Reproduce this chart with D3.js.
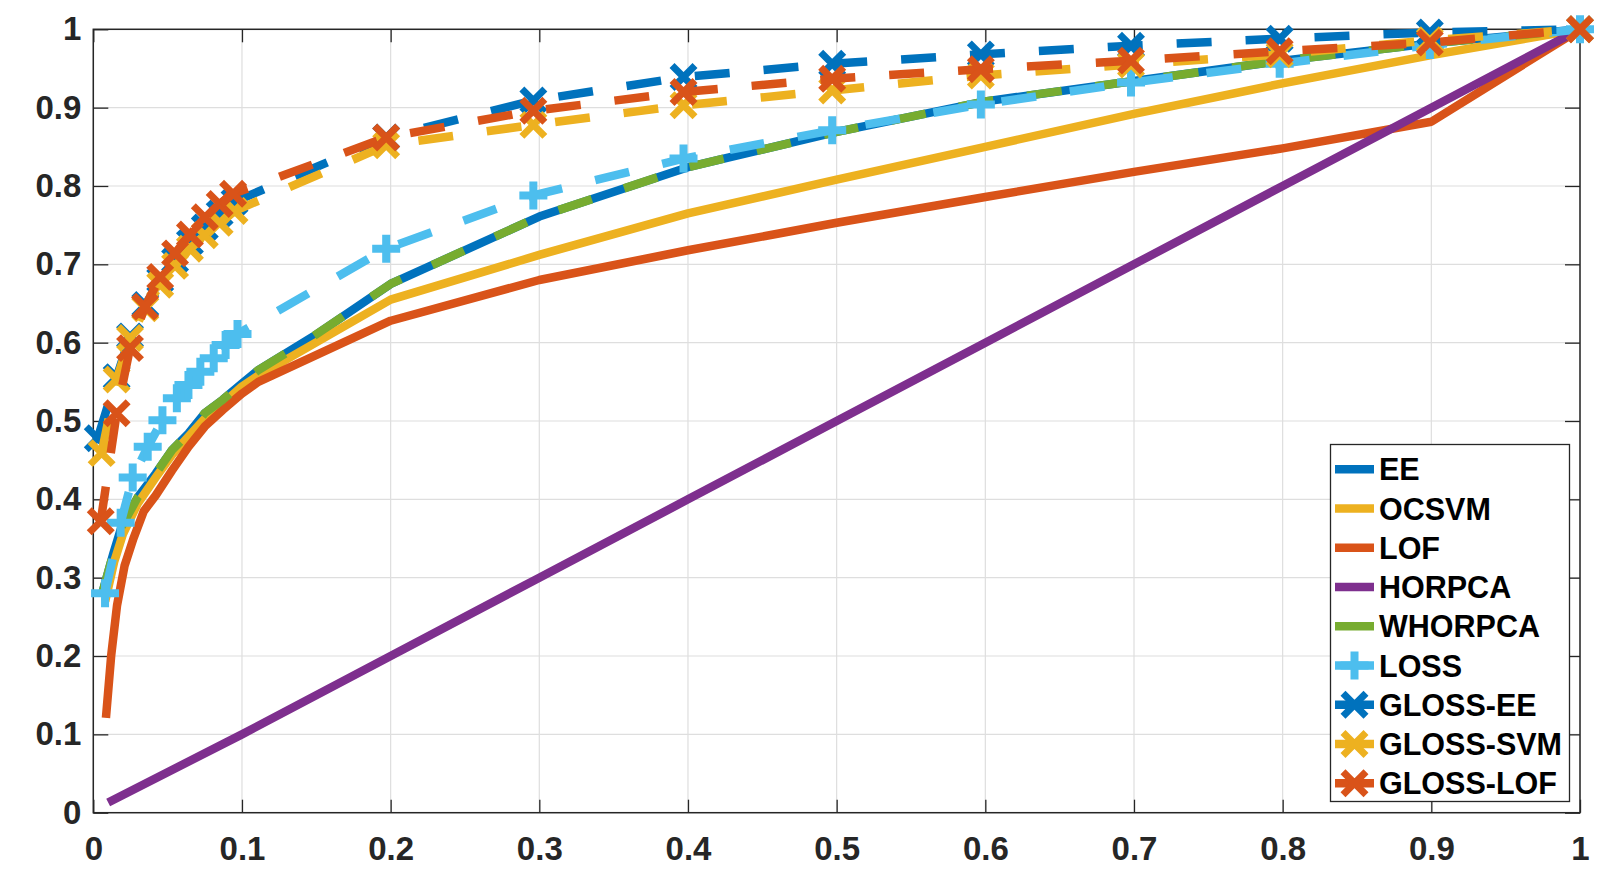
<!DOCTYPE html>
<html>
<head>
<meta charset="utf-8">
<script src="https://cdn.jsdelivr.net/npm/d3@7"></script>
<style>
body { margin: 0; background: #fff; }
text { font-family: "Liberation Sans", Arial, Helvetica, sans-serif; font-weight: bold; }
</style>
</head>
<body>
<div id="chart"></div>
<script>
// values (x = false positive rate, y = true positive rate)
const ee_x = [0.006, 0.0135, 0.019, 0.03, 0.042, 0.053, 0.064, 0.075, 0.087, 0.1, 0.111, 0.148, 0.2, 0.3, 0.4, 0.5, 0.6, 0.7, 0.8, 0.9, 1]
const ee_y = [0.28, 0.331, 0.365, 0.403, 0.433, 0.463, 0.484, 0.51, 0.527, 0.548, 0.565, 0.608, 0.675, 0.761, 0.824, 0.869, 0.908, 0.934, 0.96, 0.982, 1]

const ocsvm_x = [0.008, 0.014, 0.02, 0.03, 0.042, 0.053, 0.064, 0.075, 0.087, 0.1, 0.111, 0.2, 0.3, 0.4, 0.5, 0.6, 0.7, 0.8, 0.9, 1]
const ocsvm_y = [0.27, 0.32, 0.356, 0.395, 0.428, 0.457, 0.48, 0.503, 0.522, 0.544, 0.558, 0.655, 0.712, 0.765, 0.808, 0.85, 0.892, 0.931, 0.967, 1]

const lof_x = [0.0085, 0.012, 0.016, 0.021, 0.027, 0.034, 0.042, 0.053, 0.064, 0.075, 0.087, 0.1, 0.111, 0.2, 0.3, 0.4, 0.5, 0.6, 0.7, 0.8, 0.9, 1]
const lof_y = [0.121, 0.2, 0.265, 0.315, 0.35, 0.385, 0.405, 0.437, 0.467, 0.493, 0.514, 0.535, 0.55, 0.628, 0.68, 0.718, 0.753, 0.786, 0.818, 0.848, 0.882, 1]

const horpca_x = [0.01, 0.1, 0.2, 0.3, 0.4, 0.5, 0.6, 0.7, 0.8, 0.9, 1]
const horpca_y = [0.013, 0.1, 0.2, 0.3, 0.4, 0.5, 0.6, 0.7, 0.8, 0.9, 1]

const whorpca_x = [0.006, 0.0135, 0.019, 0.03, 0.042, 0.053, 0.064, 0.075, 0.087, 0.1, 0.111, 0.148, 0.2, 0.3, 0.4, 0.5, 0.6, 0.7, 0.8, 0.9, 1]
const whorpca_y = [0.28, 0.331, 0.365, 0.403, 0.433, 0.463, 0.484, 0.51, 0.527, 0.548, 0.565, 0.608, 0.675, 0.761, 0.824, 0.869, 0.908, 0.934, 0.96, 0.982, 1]

const loss_x = [0.0079, 0.0184, 0.0265, 0.0366, 0.0465, 0.0562, 0.064, 0.072, 0.081, 0.089, 0.097, 0.197, 0.296, 0.397, 0.497, 0.597, 0.698, 0.798, 0.899, 1]
const loss_y = [0.28, 0.37, 0.428, 0.467, 0.501, 0.529, 0.546, 0.563, 0.58, 0.597, 0.611, 0.72, 0.788, 0.835, 0.871, 0.904, 0.932, 0.956, 0.98, 1]

const gee_x = [0.003, 0.0157, 0.0247, 0.035, 0.045, 0.055, 0.065, 0.075, 0.085, 0.095, 0.197, 0.296, 0.397, 0.497, 0.597, 0.698, 0.798, 0.899, 1]
const gee_y = [0.478, 0.556, 0.608, 0.648, 0.68, 0.705, 0.728, 0.747, 0.765, 0.78, 0.862, 0.909, 0.939, 0.956, 0.968, 0.979, 0.988, 0.996, 1]

const gsvm_x = [0.0056, 0.0157, 0.0247, 0.035, 0.045, 0.055, 0.065, 0.075, 0.085, 0.095, 0.197, 0.296, 0.397, 0.497, 0.597, 0.698, 0.798, 0.899, 1]
const gsvm_y = [0.459, 0.553, 0.606, 0.644, 0.674, 0.698, 0.72, 0.737, 0.753, 0.768, 0.852, 0.878, 0.903, 0.922, 0.941, 0.955, 0.968, 0.986, 1]

const glof_x = [0.005, 0.0157, 0.0247, 0.0348, 0.045, 0.055, 0.065, 0.075, 0.085, 0.094, 0.197, 0.296, 0.397, 0.497, 0.597, 0.698, 0.798, 0.899, 1]
const glof_y = [0.372, 0.51, 0.593, 0.646, 0.684, 0.714, 0.738, 0.76, 0.777, 0.79, 0.862, 0.896, 0.92, 0.937, 0.949, 0.96, 0.972, 0.983, 1]

const names = ["EE", "OCSVM", "LOF", "HORPCA", "WHORPCA", "LOSS", "GLOSS-EE", "GLOSS-SVM", "GLOSS-LOF"]
const colors = ["#0072BD", "#EDB120", "#D95319", "#7E2F8E", "#77AC30", "#4DBEEE", "#0072BD", "#EDB120", "#D95319"]
const dashed = [false, false, false, false, true, true, true, true, true]
const markers = [null, null, null, null, null, "plus", "x", "x", "x"]

const xTicks = [0, 0.1, 0.2, 0.3, 0.4, 0.5, 0.6, 0.7, 0.8, 0.9, 1]
const yTicks = [0, 0.1, 0.2, 0.3, 0.4, 0.5, 0.6, 0.7, 0.8, 0.9, 1]

const xs = [ee_x, ocsvm_x, lof_x, horpca_x, whorpca_x, loss_x, gee_x, gsvm_x, glof_x]
const ys = [ee_y, ocsvm_y, lof_y, horpca_y, whorpca_y, loss_y, gee_y, gsvm_y, glof_y]

const series = names.map(function(n, i) {
    return {
        name: n, color: colors[i], dashed: dashed[i], marker: markers[i],
        points: xs[i].map(function(v, j) { return [v, ys[i][j]] })
    }
})

const width = 1603,
    height = 877;
const margin = { top: 29.3, right: 23, bottom: 64.3, left: 93.3 };
const w = width - margin.left - margin.right,
    h = height - margin.top - margin.bottom;

const lineW = 8.5

const svg = d3.select("#chart")
    .append("svg")
    .attr("width", width)
    .attr("height", height)
    .append("g")
    .attr("transform", `translate(${margin.left},${margin.top})`);

const x = d3.scaleLinear().domain([0, 1]).range([0, w])
const y = d3.scaleLinear().domain([0, 1]).range([h, 0])

// grid
svg.append("g").selectAll(null)
    .data(xTicks)
    .join("line")
    .attr("x1", function(d) { return x(d) })
    .attr("x2", function(d) { return x(d) })
    .attr("y1", 0)
    .attr("y2", h)
    .attr("stroke", "#dedede")
    .attr("stroke-width", 1.2)

svg.append("g").selectAll(null)
    .data(yTicks)
    .join("line")
    .attr("y1", function(d) { return y(d) })
    .attr("y2", function(d) { return y(d) })
    .attr("x1", 0)
    .attr("x2", w)
    .attr("stroke", "#dedede")
    .attr("stroke-width", 1.2)

// axes, ticks pointing inward on all four sides
const fmt = d3.format("")
svg.append("g")
    .attr("transform", `translate(0,${h})`)
    .call(d3.axisBottom(x).tickValues(xTicks).tickFormat(fmt).tickSize(-13).tickPadding(24))
svg.append("g")
    .call(d3.axisLeft(y).tickValues(yTicks).tickFormat(fmt).tickSize(-15).tickPadding(12))
svg.append("g")
    .call(d3.axisTop(x).tickValues(xTicks).tickFormat("").tickSize(-13))
svg.append("g")
    .attr("transform", `translate(${w},0)`)
    .call(d3.axisRight(y).tickValues(yTicks).tickFormat("").tickSize(-15))

svg.selectAll(".domain").remove()
svg.selectAll(".tick line").attr("stroke", "#262626").attr("stroke-width", 1.3)
svg.selectAll(".tick text")
    .attr("fill", "#262626")
    .style("font-size", "33px")
    .style("font-weight", "bold")

svg.append("rect")
    .attr("x", 0)
    .attr("y", 0)
    .attr("width", w)
    .attr("height", h)
    .attr("fill", "none")
    .attr("stroke", "#262626")
    .attr("stroke-width", 1.5)

// lines
const line = d3.line()
    .x(function(d) { return x(d[0]) })
    .y(function(d) { return y(d[1]) })

function markerPath(type) {
    if (type === "plus") {
        const r = 14
        return `M${-r},0L${r},0M0,${-r}L0,${r}`
    }
    const r = 11.5
    return `M${-r},${-r}L${r},${r}M${-r},${r}L${r},${-r}`
}
function markerWidth(type) { return type === "plus" ? 8 : 7 }

series.forEach(function(s) {
    svg.append("path")
        .datum(s.points)
        .attr("d", line)
        .attr("fill", "none")
        .attr("stroke", s.color)
        .attr("stroke-width", lineW)
        .attr("stroke-linejoin", "round")
        .attr("stroke-dasharray", s.dashed ? "35,34" : null)

    if (s.marker) {
        svg.append("g").selectAll(null)
            .data(s.points)
            .join("path")
            .attr("transform", function(d) { return `translate(${x(d[0])},${y(d[1])})` })
            .attr("d", markerPath(s.marker))
            .attr("fill", "none")
            .attr("stroke", s.color)
            .attr("stroke-width", markerWidth(s.marker))
    }
})

// legend
const lgX = 1330.5 - margin.left,
    lgY = 444.5 - margin.top,
    lgW = 239,
    lgH = 357,
    rowH = 39.25,
    row0 = 469.3 - margin.top;

const legend = svg.append("g")

legend.append("rect")
    .attr("x", lgX)
    .attr("y", lgY)
    .attr("width", lgW)
    .attr("height", lgH)
    .attr("fill", "white")
    .attr("stroke", "#262626")
    .attr("stroke-width", 1.3)

const items = legend.selectAll(null)
    .data(series)
    .join("g")
    .attr("transform", function(d, i) { return `translate(${lgX + 4.5},${row0 + i * rowH})` })

items.append("line")
    .attr("x1", 0)
    .attr("x2", 39)
    .attr("y1", 0)
    .attr("y2", 0)
    .attr("stroke", function(d) { return d.color })
    .attr("stroke-width", lineW)

items.filter(function(d) { return d.marker })
    .append("path")
    .attr("transform", "translate(19.5,0)")
    .attr("d", function(d) { return markerPath(d.marker) })
    .attr("fill", "none")
    .attr("stroke", function(d) { return d.color })
    .attr("stroke-width", function(d) { return markerWidth(d.marker) })

items.append("text")
    .attr("x", 44)
    .attr("y", 0)
    .attr("dy", "0.36em")
    .attr("fill", "#000")
    .style("font-size", "30.5px")
    .text(function(d) { return d.name })
</script>
</body>
</html>
